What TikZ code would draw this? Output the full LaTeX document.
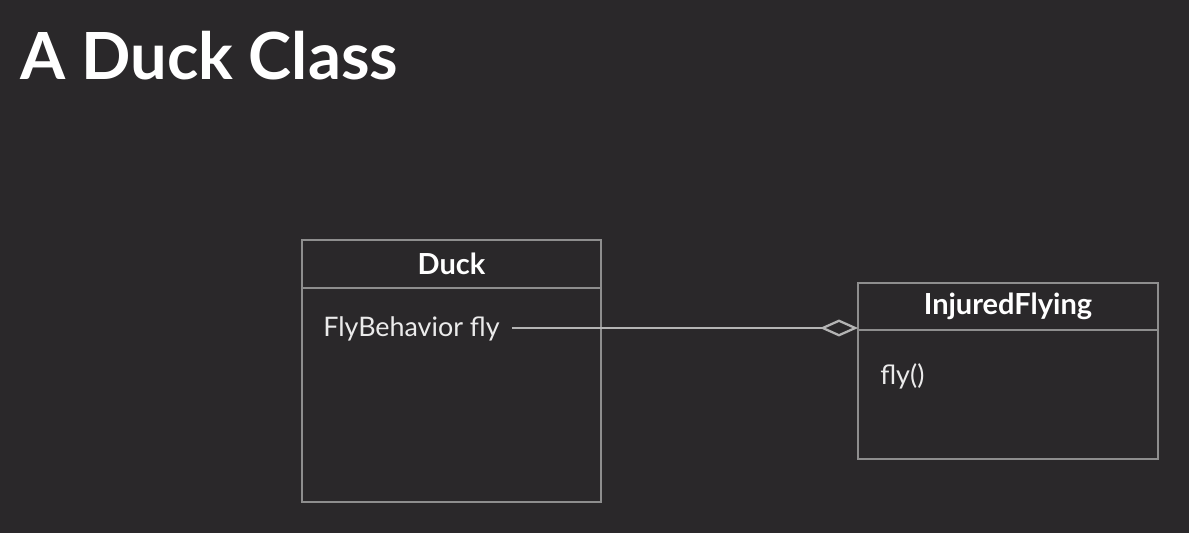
\documentclass[tikz,border=0pt]{standalone}
\usepackage{fontspec}
\setmainfont{Lato}
\usepackage{tikz}
\usetikzlibrary{arrows.meta, positioning}
\definecolor{fondo}{HTML}{2A282A}
\definecolor{borde}{HTML}{8E8E8E}
\definecolor{linea}{HTML}{B4B4B4}
\tikzstyle{titulo} = [text=white, anchor=base west, inner sep=0pt, font=\fontsize{37}{44}\selectfont\bfseries]
\tikzstyle{cabecera} = [draw=borde, line width=1.2pt, rectangle, outer sep=0pt, text=white, inner sep=0pt, font=\fontsize{16.5}{19}\selectfont\bfseries]
\tikzstyle{cuerpo} = [draw=borde, line width=1.2pt, rectangle, outer sep=0pt, inner sep=0pt]
\tikzstyle{miembro} = [text=white!92!black, anchor=base west, inner sep=0pt, font=\fontsize{15.3}{18}\selectfont]

\begin{document}
\begin{tikzpicture}[x=0.02cm, y=-0.02cm]
	\fill[fondo] (0,0) rectangle (1189,533);
	\node[titulo] (title) at (20,80) {A Duck Class};
	% clase Duck
	\node[cabecera, minimum width=5.98cm, minimum height=0.96cm, anchor=north west] (duckhead) at (302,240) {Duck};
	\node[cuerpo, minimum width=5.98cm, minimum height=4.28cm, below=0pt of duckhead] (duckbody) {};
	\node[miembro] (flyattr) at (323,337) {FlyBehavior fly};
	\coordinate (flyout) at ([xshift=0.24cm]flyattr.east |- 0,328);
	% clase InjuredFlying
	\node[cabecera, minimum width=6cm, minimum height=0.94cm, anchor=north west] (injhead) at (858,283) {InjuredFlying};
	\node[cuerpo, minimum width=6cm, minimum height=2.58cm, below=0pt of injhead] (injbody) {};
	\node[miembro] (flymeth) at (880,384) {fly()};
	% agregacion
	\draw[linea, line width=1.3pt, -{Diamond[open, length=0.76cm, width=0.34cm]}] (flyout) -- (flyout -| injbody.north west);
\end{tikzpicture}
\end{document}
